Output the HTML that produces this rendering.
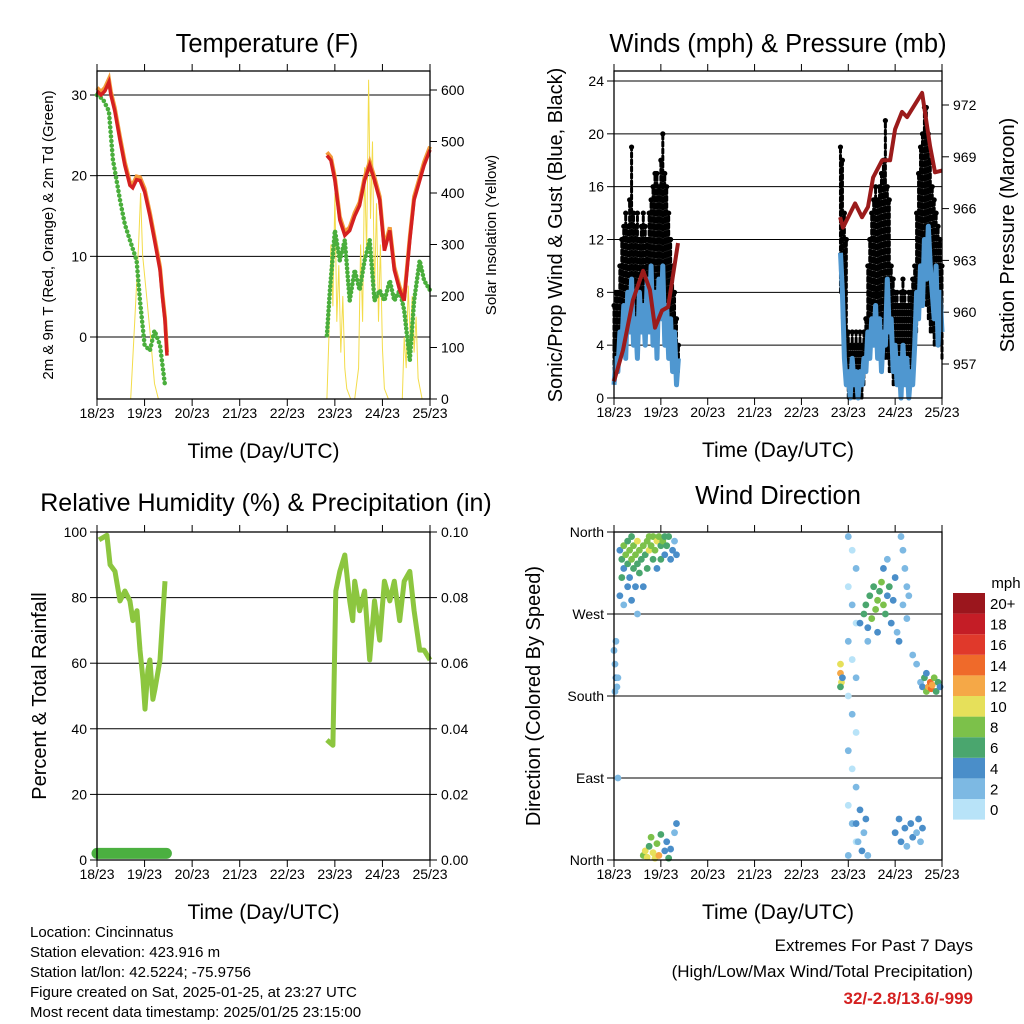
<!DOCTYPE html>
<html><head><meta charset="utf-8"><style>
body{margin:0;background:#fff;}
svg{display:block;font-family:"Liberation Sans",sans-serif;}
</style></head><body>
<svg id="c" width="1024" height="1024" viewBox="0 0 1024 1024"></svg>
<script>
// ---------- DATA ----------
const dayTicks=["18/23","19/23","20/23","21/23","22/23","23/23","24/23","25/23"];
const tRedH1=[0,2,4,6,7,9,11.6,14,16.6,18,20,21.7,24,26.7,29,31.8,33,34.3,35.3];
const tRedV1=[30.5,30,30.5,31.6,30,28,24.4,21.3,18.8,18.5,19.5,19.4,18,15,12,8.3,5,2,-2.3];
const tRedH2=[116,118,120,122.5,125,127.5,130,132.5,135,137.6,140,142.6,145,147.7,150,152.7,155,157.8,160,162.8,165,168];
const tRedV2=[22.5,21.9,19.4,14.5,12.6,13.2,15,16.3,19.4,21.3,19.4,17,10.7,13.2,8.3,5.8,4.5,12,17,19.4,21.3,23.2];
const tdH1=[0,3,6,8,11.6,14,16.6,20,21.7,24,26.7,29,31.8,34.3];
const tdV1=[30,29.5,28,22,17,14,12,9.5,4.5,-1,-1.7,0.8,-1,-6];
const tdH2=[116,117.5,120,122.5,125,127.5,130,132.5,135,137.6,140,142.6,145,147.7,150,152.7,155,157.8,160,162.8,165,168];
const tdV2=[0.2,5.8,13.2,9.5,12,4.5,8.3,5.8,9.5,12,4.5,5.8,4.5,7,4.5,5.8,3.3,-2.9,4.5,9.5,7,5.8];
const solH1=[17,19,21,22,23,25,27,29,31];
const solV1=[0,150,300,400,280,200,120,30,0];
const solH2=[114,116,117,118,119,120,121,122,123,124,125,126,128,130,132,133,134,135,136,137,138,139,140,141,142,143,144,145,147,152,154,155,156,157,158,159,160,161,162,164,166];
const solV2=[0,0,120,300,180,400,150,260,90,200,60,20,0,0,60,300,150,450,280,620,350,500,200,380,150,300,100,20,0,0,0,120,60,220,120,200,90,160,40,0,0];
const gustHi1=[7,8,8,10,12,13,14,13,15,19,14,13,14,12,13,14,13,12,14,15,16,17,17,16,18,20,17,16,14,12,10,8,6,4];
const gustLo1=[2,2,3,3,4,5,5,6,6,5,6,5,6,6,7,6,6,5,6,7,7,8,8,7,8,9,8,7,6,5,4,3,2,2];
const gustHi2=[19,18,14,12,5,4,5,4,5,4,5,4,5,6,10,12,14,15,16,15,16,17,18,21,16,15,10,9,8,8,7,8,9,8,7,8,8,9,10,14,17,19,20,22,22,20,18,16,15,14,13,12,10];
const gustLo2=[8,6,4,2,0,0,0,0,0,0,0,0,1,2,3,4,5,5,6,6,5,4,4,3,3,2,2,1,1,1,1,1,1,1,1,1,1,2,3,5,6,7,8,8,7,6,5,5,4,4,4,4,3];
const wind1=[1,3,2,5,4,7,3,8,5,9,4,6,3,8,5,7,4,9,5,10,4,8,3,9,6,10,4,7,3,6,2,5,1,3];
const wind2=[11,8,3,1,2,0,3,1,2,0,2,1,3,2,5,3,6,4,7,3,6,2,5,4,9,5,6,2,4,1,3,0,4,1,3,0,2,1,4,8,6,10,7,12,9,13,10,8,6,10,4,8,5];
const pressH1=[0,4.6,9.7,14.9,18.4,21,24.6,27.7,32.8];
const pressV1=[956,957.8,960.7,962.4,961.3,959.1,960.1,960.3,964];
const pressH2=[115.8,117.3,123.5,127,130.1,132.7,137.3,141.4,144,147.5,150.1,157.8,161.9,164.4,168];
const pressV2=[965.5,964.9,966.3,965.5,966.1,967.8,968.8,968.8,970.6,971.6,971.3,972.7,969.6,968.1,968.2];
const rhH1=[1,5,6.6,9.1,11.6,14.1,16.6,18.1,20.2,21.7,23.2,24.2,25.7,26.7,28.2,29.2,31.8,34.3];
const rhV1=[97.6,99,90,88,79,82,79,73,76,64,55,46,58,61,49,52,61,85];
const rhH2=[116,119,120.5,122.5,125,127.5,129,130,132.5,135,137.6,140,142.6,145,147.7,150,152.7,155,157.8,160,162.8,165,168];
const rhV2=[36.6,35,82,88,93,79,73,85,76,82,61,79,67,85,79,85,73,85,88,76,64,64,61];
const precipH=[0,35];
const precipV=[0.002,0.002];
const dirH=[3,4,5,5,6,7,7,8,8,9,9,10,10,11,11,12,12,13,13,14,15,15,16,17,17,18,18,19,20,20,21,22,22,23,24,24,25,26,26,27,28,29,30,31,32,3,5,7,9,12,4,
0,0.5,1,1.5,1,0.5,2,2,
15,16,17,18,19,20,21,22,23,24,26,27,29,31,32,28,
120,122,124,120,122,124,120,122,124,120,122,124,120,122,124,120,122,124,120,
116,116,116.5,116,117,
126,128,129,130,131,132,133,134,135,136,137,138,139,140,141,142,143,144,145,146,130,135,138,140,
147,148,149,150,151,148,150,
157,158,159,160,161,162,162.5,163,164,165,166,167,160,155,153,
124,125,126,127,128,129,130,
144,146,147,149,150,152,153,155,156,157,158];
const dirD=[340,330,345,320,335,350,325,340,310,330,355,345,320,335,300,350,325,340,315,330,345,300,335,350,320,355,340,345,330,355,340,350,320,355,345,330,350,355,335,345,355,330,340,350,335,290,280,300,285,270,310,
230,215,200,190,240,185,200,90,
5,10,3,15,25,8,2,18,5,28,10,20,12,30,40,2,
355,340,320,300,280,260,240,220,200,180,160,140,120,100,80,60,40,20,5,
215,205,195,190,200,
260,270,280,255,290,265,300,275,285,295,305,280,270,290,300,260,285,310,250,240,240,250,320,330,
355,340,320,300,290,280,265,
195,190,200,185,190,195,188,192,200,185,195,190,205,215,225,
40,20,55,10,30,45,5,
30,45,20,35,15,40,25,30,45,20,35];
const dirS=[4,6,7,4,8,6,5,8,4,7,6,8,6,7,3,9,6,8,5,6,8,4,6,8,5,7,9,8,6,7,8,9,4,8,6,5,7,6,4,5,6,4,3,2,3,3,2,4,3,2,5,
2,2,3,2,2,1,2,1,
8,10,9,6,8,10,9,7,11,6,4,3,4,2,3,5,
1,0,1,0,1,0,1,0,1,0,1,0,1,0,1,0,1,0,1,
10,12,9,6,4,
4,6,5,4,6,8,6,7,8,6,7,8,6,4,5,3,4,3,2,3,2,3,4,2,
2,2,2,1,2,2,1,
2,4,6,8,12,14,13,11,8,6,5,4,3,1,2,
3,2,3,4,2,3,2,
3,4,3,4,2,3,4,2,3,2,3];
const speedColors=["#b8e3f8","#7db9e3","#4a8ec9","#4aa66e","#7cc14a","#e6e05a","#f5a847","#ef6a2a","#e0392b","#c41d26","#9b161d"];
const speedLabels=["0","2","4","6","8","10","12","14","16","18","20+"];

// ---------- HELPERS ----------
const NS="http://www.w3.org/2000/svg";
const svg=document.getElementById('c');
function el(tag,attrs,parent,text){const e=document.createElementNS(NS,tag);for(const k in attrs)e.setAttribute(k,attrs[k]);if(text!==undefined)e.textContent=text;(parent||svg).appendChild(e);return e;}
function lin(d0,d1,r0,r1){return v=>r0+(v-d0)*(r1-r0)/(d1-d0);}
function polyline(H,V,sx,sy,attrs,name){
  const pts=H.map((h,i)=>sx(h).toFixed(1)+","+sy(V[i]).toFixed(1)).join(" ");
  const p=el('polyline',Object.assign({points:pts,fill:'none'},attrs));
  
  
  return p;
}
function text(x,y,s,size,anchor,name,extra){
  const t=el('text',Object.assign({x:x,y:y,'font-size':size,'text-anchor':anchor||'middle',fill:'#000'},extra||{}),svg,s);
  
  
  return t;
}
function frame(x0,y0,x1,y1,name,sx){
  const r=el('rect',{x:x0,y:y0,width:x1-x0,height:y1-y0,fill:'none',stroke:'#000','stroke-width':1.3});
  
  
  dayTicks.forEach((d,i)=>{
    const x=sx(i*24);
    el('line',{x1:x,y1:y1,x2:x,y2:y1+7,stroke:'#000'});
    el('line',{x1:x,y1:y0,x2:x,y2:y0-7,stroke:'#000'});
    text(x,y1+19,d,14,'middle','x-tick-label');
  });
  text((x0+x1)/2,y1+59,"Time (Day/UTC)",21,'middle','x-axis-title');
}
function leftTicks(vals,labels,sy,x0,x1,grid){
  vals.forEach((v,i)=>{const y=sy(v);
    el('line',{x1:x0-7,y1:y,x2:x0,y2:y,stroke:'#000'});
    if(grid)el('line',{x1:x0,y1:y,x2:x1,y2:y,stroke:'#000','stroke-width':1});
    text(x0-10,y+5,labels[i],14,'end','y-tick-label');});
}
function rightTicks(vals,labels,sy,x1){
  vals.forEach((v,i)=>{const y=sy(v);
    el('line',{x1:x1,y1:y,x2:x1+7,y2:y,stroke:'#000'});
    text(x1+11,y+5,labels[i],14,'start','y2-tick-label');});
}
function vtext(x,y,s,size,name){
  const t=el('text',{x:0,y:0,'font-size':size,'text-anchor':'middle',transform:`translate(${x},${y}) rotate(-90)`},svg,s);
  
  
}

// ---------- PANEL 1: TEMPERATURE ----------
{
const X0=97,X1=430,Y0=71,Y1=399;
const sx=lin(0,168,X0,X1), sy=lin(0,30,337,95), ss=lin(0,600,399,90);
text(267,52,"Temperature (F)",25.5,'middle','temperature-title');
leftTicks([0,10,20,30],["0","10","20","30"],sy,X0,X1,true);
rightTicks([0,100,200,300,400,500,600],["0","100","200","300","400","500","600"],ss,X1);
polyline(solH1,solV1,sx,ss,{stroke:'#f3dc4a','stroke-width':1},'solar-line');
polyline(solH2,solV2,sx,ss,{stroke:'#f3dc4a','stroke-width':1},'solar-line');
polyline(tdH1,tdV1,sx,sy,{stroke:'#4aae3c','stroke-width':4.5,'stroke-dasharray':'0.1 4.5','stroke-linecap':'round'},'dewpoint-line');
polyline(tdH2,tdV2,sx,sy,{stroke:'#4aae3c','stroke-width':4.5,'stroke-dasharray':'0.1 4','stroke-linecap':'round'},'dewpoint-line');
polyline(tRedH1,tRedV1.map(v=>v+0.4),sx,sy,{stroke:'#f39a3a','stroke-width':4},'temp-9m-line');
polyline(tRedH2,tRedV2.map(v=>v+0.4),sx,sy,{stroke:'#f39a3a','stroke-width':4},'temp-9m-line');
polyline(tRedH1,tRedV1,sx,sy,{stroke:'#d42020','stroke-width':3.5},'temp-2m-line');
polyline(tRedH2,tRedV2,sx,sy,{stroke:'#d42020','stroke-width':3.5},'temp-2m-line');
frame(X0,Y0,X1,Y1,'temperature-plot-frame',sx);
vtext(53,235,"2m & 9m T (Red, Orange) & 2m Td (Green)",15,'temperature-y-title');
vtext(496,235,"Solar Insolation (Yellow)",15,'solar-y-title');
}

// ---------- PANEL 2: WINDS ----------
{
const X0=614,X1=942,Y0=71,Y1=398;
const sx=lin(0,168,X0,X1), sy=lin(0,24,398,81), sp=lin(957,972,364,105);
text(778,52,"Winds (mph) & Pressure (mb)",25.5,'middle','winds-title');
leftTicks([0,4,8,12,16,20,24],["0","4","8","12","16","20","24"],sy,X0,X1,true);
rightTicks([957,960,963,966,969,972],["957","960","963","966","969","972"],sp,X1);
function gusts(hi,lo,h0){
  hi.forEach((v,i)=>{const x=sx(h0+i);
    const b=el('line',{x1:x,y1:sy(lo[i]),x2:x,y2:sy(v),stroke:'#000','stroke-width':3,'stroke-dasharray':'4 3','stroke-linecap':'round'});
    
    
    const c=el('circle',{cx:x,cy:sy(v),r:2.6,fill:'#000'});
    
    
  });
}
gusts(gustHi1,gustLo1,0);
gusts(gustHi2,gustLo2,116);
polyline(wind1.map((v,i)=>i),wind1,sx,sy,{stroke:'#4f97d0','stroke-width':5,'stroke-linejoin':'round'},'wind-line');
polyline(wind2.map((v,i)=>116+i),wind2,sx,sy,{stroke:'#4f97d0','stroke-width':5,'stroke-linejoin':'round'},'wind-line');
polyline(pressH1,pressV1,sx,sp,{stroke:'#9b1b1b','stroke-width':4,'stroke-linejoin':'round'},'pressure-line');
polyline(pressH2,pressV2,sx,sp,{stroke:'#9b1b1b','stroke-width':4,'stroke-linejoin':'round'},'pressure-line');
frame(X0,Y0,X1,Y1,'winds-plot-frame',sx);
vtext(562,235,"Sonic/Prop Wind & Gust (Blue, Black)",20,'wind-y-title');
vtext(1014,235,"Station Pressure (Maroon)",20,'pressure-y-title');
}

// ---------- PANEL 3: RH ----------
{
const X0=97,X1=430,Y0=532,Y1=860;
const sx=lin(0,168,X0,X1), sy=lin(0,100,860,532), sr=lin(0,0.1,860,532);
text(266,511,"Relative Humidity (%) & Precipitation (in)",25,'middle','humidity-title');
leftTicks([0,20,40,60,80,100],["0","20","40","60","80","100"],sy,X0,X1,true);
rightTicks([0,0.02,0.04,0.06,0.08,0.1],["0.00","0.02","0.04","0.06","0.08","0.10"],sr,X1);
polyline(rhH1,rhV1,sx,sy,{stroke:'#8cc63f','stroke-width':5,'stroke-linejoin':'round'},'humidity-line');
polyline(rhH2,rhV2,sx,sy,{stroke:'#8cc63f','stroke-width':5,'stroke-linejoin':'round'},'humidity-line');
polyline(precipH,precipV,sx,sr,{stroke:'#4bb040','stroke-width':11,'stroke-linecap':'round'},'precip-line');
frame(X0,Y0,X1,Y1,'humidity-plot-frame',sx);
vtext(46,696,"Percent & Total Rainfall",20,'humidity-y-title');
}

// ---------- PANEL 4: WIND DIRECTION ----------
{
const X0=614,X1=942,Y0=532,Y1=860;
const sx=lin(0,168,X0,X1), sy=lin(0,360,860,532);
text(778,504,"Wind Direction",25.5,'middle','direction-title');
leftTicks([0,90,180,270,360],["North","East","South","West","North"],sy,X0,X1,true);
dirH.forEach((h,i)=>{
  const idx=Math.min(10,Math.floor((dirS[i]+1)/2));
  const c=el('circle',{cx:sx(h),cy:sy(dirD[i]),r:3.4,fill:speedColors[idx]});
  
  
});
frame(X0,Y0,X1,Y1,'direction-plot-frame',sx);
vtext(540,696,"Direction (Colored By Speed)",20,'direction-y-title');
text(1006,588,"mph",15,'middle','colorbar-title');
speedColors.forEach((c,i)=>{
  const y=799-i*20.6;
  const r=el('rect',{x:953,y:y,width:32,height:20.6,fill:c});
  
  
  text(990,y+16,speedLabels[i],15,'start','colorbar-label');
});
}

// ---------- FOOTER ----------
const info=["Location: Cincinnatus","Station elevation: 423.916 m","Station lat/lon: 42.5224; -75.9756","Figure created on Sat, 2025-01-25, at 23:27 UTC","Most recent data timestamp: 2025/01/25 23:15:00"];
info.forEach((s,i)=>text(30,937+i*20,s,15,'start','station-info'));
text(973,951,"Extremes For Past 7 Days",17,'end','extremes-title');
text(973,977,"(High/Low/Max Wind/Total Precipitation)",17,'end','extremes-subtitle');
text(973,1004,"32/-2.8/13.6/-999",17,'end','extremes-values',{fill:'#d42020','font-weight':'bold'});
</script>
</body></html>
